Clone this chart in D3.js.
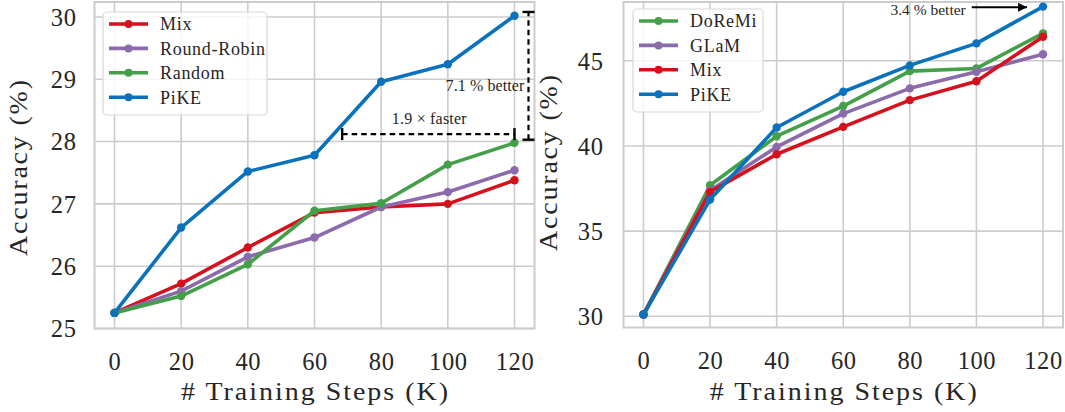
<!DOCTYPE html>
<html><head><meta charset="utf-8">
<script src="https://cdn.jsdelivr.net/npm/d3@7"></script>
<style>
html,body{margin:0;padding:0;background:#fff;}
text{font-family:"Liberation Serif","Times New Roman",serif;fill:#262626;}
</style></head>
<body><svg id="c" width="1065" height="412"></svg>
<script>
// ---- data ----
const steps = [0, 20, 40, 60, 80, 100, 120];
const xTicks = [0, 20, 40, 60, 80, 100, 120];

// left panel
const leftSeriesNames = ["Mix", "Round-Robin", "Random", "PiKE"];
const mixL    = [25.25, 25.72, 26.30, 26.86, 26.95, 27.00, 27.38];
const rrL     = [25.25, 25.60, 26.15, 26.46, 26.95, 27.19, 27.54];
const randomL = [25.25, 25.52, 26.03, 26.89, 27.01, 27.63, 27.98];
const pikeL   = [25.25, 26.62, 27.52, 27.78, 28.96, 29.24, 30.02];
const leftYTicks = [25, 26, 27, 28, 29, 30];

// right panel
const rightSeriesNames = ["DoReMi", "GLaM", "Mix", "PiKE"];
const doremiR = [30.1, 37.69, 40.57, 42.34, 44.39, 44.55, 46.61];
const glamR   = [30.1, 37.39, 39.94, 41.90, 43.38, 44.35, 45.38];
const mixR    = [30.1, 37.30, 39.51, 41.12, 42.69, 43.80, 46.41];
const pikeR   = [30.1, 36.85, 41.08, 43.18, 44.73, 46.02, 48.18];
const rightYTicks = [30, 35, 40, 45];

// annotations (data coords)
const fasterLine = {x1: 68.3, x2: 120, y: 28.12, label: "1.9 × faster"};
const betterLine = {x: 124.2, y1: 28.03, y2: 30.08, label: "7.1 % better"};
const arrowR = {x1: 98.6, x2: 115.2, y: 48.14, label: "3.4 % better"};

// ---- style ----
const C = {red:"#d4121e", purple:"#8b6bab", green:"#44a048", blue:"#0a72bd"};
const GRID = "#cccccc";

const svg = d3.select("#c");

function fitText(sel, cx, cy, rot, width, size, sx){
  // text centred at (cx,cy); widened partly by glyph scale, partly by spacing
  const t = sel.append("text")
    .attr("transform",`translate(${cx},${cy}) rotate(${rot}) scale(${sx},1)`)
    .attr("text-anchor","middle").attr("font-size",size)
    .attr("textLength",width/sx).attr("lengthAdjust","spacing");
  return t;
}

function panel(opts){
  const g = svg.append("g");
  const x = d3.scaleLinear().domain([-6,126]).range([opts.left, opts.right]);
  const y = d3.scaleLinear().domain(opts.ydom).range([opts.bottom, opts.top]);
  // grid
  g.append("g").selectAll("line").data(xTicks).join("line")
    .attr("x1",d=>x(d)).attr("x2",d=>x(d)).attr("y1",opts.top).attr("y2",opts.bottom)
    .attr("stroke",GRID).attr("stroke-width",1.6);
  g.append("g").selectAll("line").data(opts.yTicks).join("line")
    .attr("x1",opts.left).attr("x2",opts.right).attr("y1",d=>y(d)).attr("y2",d=>y(d))
    .attr("stroke",GRID).attr("stroke-width",1.6);
  // axes via d3 axis (labels only)
  const xa = g.append("g").attr("transform",`translate(0,${opts.bottom})`)
    .call(d3.axisBottom(x).tickValues(xTicks).tickSize(0).tickPadding(24).tickFormat(d3.format("d")));
  xa.select(".domain").remove();
  xa.selectAll("text").attr("font-size",24.5).attr("fill","#262626").attr("letter-spacing",0.6);
  const ya = g.append("g").attr("transform",`translate(${opts.left},0)`)
    .call(d3.axisLeft(y).tickValues(opts.yTicks).tickSize(0).tickPadding(opts.ypad).tickFormat(d3.format("d")));
  ya.select(".domain").remove();
  ya.selectAll("text").attr("font-size",24.5).attr("fill","#262626").attr("dy","0.34em").attr("letter-spacing",0.6);
  // frame
  g.append("rect").attr("x",opts.left).attr("y",opts.top)
    .attr("width",opts.right-opts.left).attr("height",opts.bottom-opts.top)
    .attr("fill","none").attr("stroke",GRID).attr("stroke-width",2);
  // labels
  fitText(g,(opts.left+opts.right)/2,400,0,267,25,1.12).text("# Training Steps (K)");
  fitText(g,opts.ylabX,opts.ylabY,-90,176,25,1.12).text("Accuracy (%)");
  // series
  const line = d3.line().x((d,i)=>x(steps[i])).y(d=>y(d));
  opts.series.forEach(s=>{
    g.append("path").attr("d",line(s.values)).attr("fill","none")
      .attr("stroke",s.color).attr("stroke-width",3.6).attr("stroke-linejoin","round");
    g.append("g").selectAll("circle").data(s.values).join("circle")
      .attr("cx",(d,i)=>x(steps[i])).attr("cy",d=>y(d)).attr("r",4.2).attr("fill",s.color);
  });
  // legend
  const L = opts.legend;
  const lg = g.append("g");
  lg.append("rect").attr("x",L.x).attr("y",L.y).attr("width",L.w).attr("height",103)
    .attr("rx",4).attr("fill","rgba(255,255,255,0.8)").attr("stroke","#d8d8d8").attr("stroke-width",1.2);
  opts.series.forEach((s,i)=>{
    const yy = L.y + 12 + i*24.4;
    lg.append("line").attr("x1",L.x+6).attr("x2",L.x+45).attr("y1",yy).attr("y2",yy)
      .attr("stroke",s.color).attr("stroke-width",3.6);
    lg.append("circle").attr("cx",L.x+25.5).attr("cy",yy).attr("r",4).attr("fill",s.color);
    lg.append("text").attr("x",L.x+57).attr("y",yy).attr("dy","0.35em")
      .attr("font-size",18).attr("letter-spacing",0.7).text(s.name);
  });
  return {g,x,y};
}

const colorsL = [C.red, C.purple, C.green, C.blue];
const valsL = [mixL, rrL, randomL, pikeL];
const P1 = panel({left:94.5, right:534.5, top:2, bottom:328.5, ydom:[25,30.24], yTicks:leftYTicks, ypad:18,
  ylabX:27, ylabY:168,
  series: leftSeriesNames.map((n,i)=>({name:n,color:colorsL[i],values:valsL[i]})),
  legend:{x:103, y:12, w:164}});

const colorsR = [C.green, C.purple, C.red, C.blue];
const valsR = [doremiR, glamR, mixR, pikeR];
const P2 = panel({left:623.5, right:1063, top:2, bottom:327.5, ydom:[29.34,48.45], yTicks:rightYTicks, ypad:20,
  ylabX:557, ylabY:163,
  series: rightSeriesNames.map((n,i)=>({name:n,color:colorsR[i],values:valsR[i]})),
  legend:{x:633, y:9, w:130}});

// ---- annotations left ----
{
  const {g,x,y} = P1;
  const yy = y(fasterLine.y);
  g.append("line").attr("x1",x(fasterLine.x1)).attr("x2",x(fasterLine.x2)).attr("y1",yy).attr("y2",yy)
    .attr("stroke","#000").attr("stroke-width",2.2).attr("stroke-dasharray","5.5,4");
  [fasterLine.x1, fasterLine.x2].forEach(v=>{
    g.append("line").attr("x1",x(v)).attr("x2",x(v)).attr("y1",yy-6).attr("y2",yy+6)
      .attr("stroke","#000").attr("stroke-width",2.4);
  });
  g.append("text").attr("x",(x(fasterLine.x1)+x(fasterLine.x2))/2+1).attr("y",yy-10)
    .attr("text-anchor","middle").attr("font-size",16).attr("letter-spacing",0.2).attr("fill","#111").text(fasterLine.label);
  const xx = x(betterLine.x);
  g.append("line").attr("x1",xx).attr("x2",xx).attr("y1",y(betterLine.y1)).attr("y2",y(betterLine.y2))
    .attr("stroke","#000").attr("stroke-width",2.2).attr("stroke-dasharray","5.5,4");
  [betterLine.y1, betterLine.y2].forEach(v=>{
    g.append("line").attr("x1",xx-6).attr("x2",xx+6).attr("y1",y(v)).attr("y2",y(v))
      .attr("stroke","#000").attr("stroke-width",2.4);
  });
  g.append("text").attr("x",xx-4).attr("y",91).attr("text-anchor","end")
    .attr("font-size",16).attr("letter-spacing",0.1).attr("fill","#111").text(betterLine.label);
}
// ---- annotation right ----
{
  const {g,x,y} = P2;
  svg.append("defs").append("marker").attr("id","ah").attr("viewBox","0 0 10 10")
    .attr("refX",10).attr("refY",5).attr("markerWidth",13).attr("markerHeight",9).attr("markerUnits","userSpaceOnUse")
    .attr("orient","auto").append("path").attr("d","M0,0 L10,5 L0,10 Z").attr("fill","#000");
  const yy = y(arrowR.y);
  g.append("line").attr("x1",x(arrowR.x1)).attr("x2",x(arrowR.x2)).attr("y1",yy).attr("y2",yy)
    .attr("stroke","#000").attr("stroke-width",2).attr("marker-end","url(#ah)");
  g.append("text").attr("x",x(arrowR.x1)-6).attr("y",yy+8).attr("text-anchor","end")
    .attr("font-size",15.5).attr("fill","#111").text(arrowR.label);
}
</script></body></html>
